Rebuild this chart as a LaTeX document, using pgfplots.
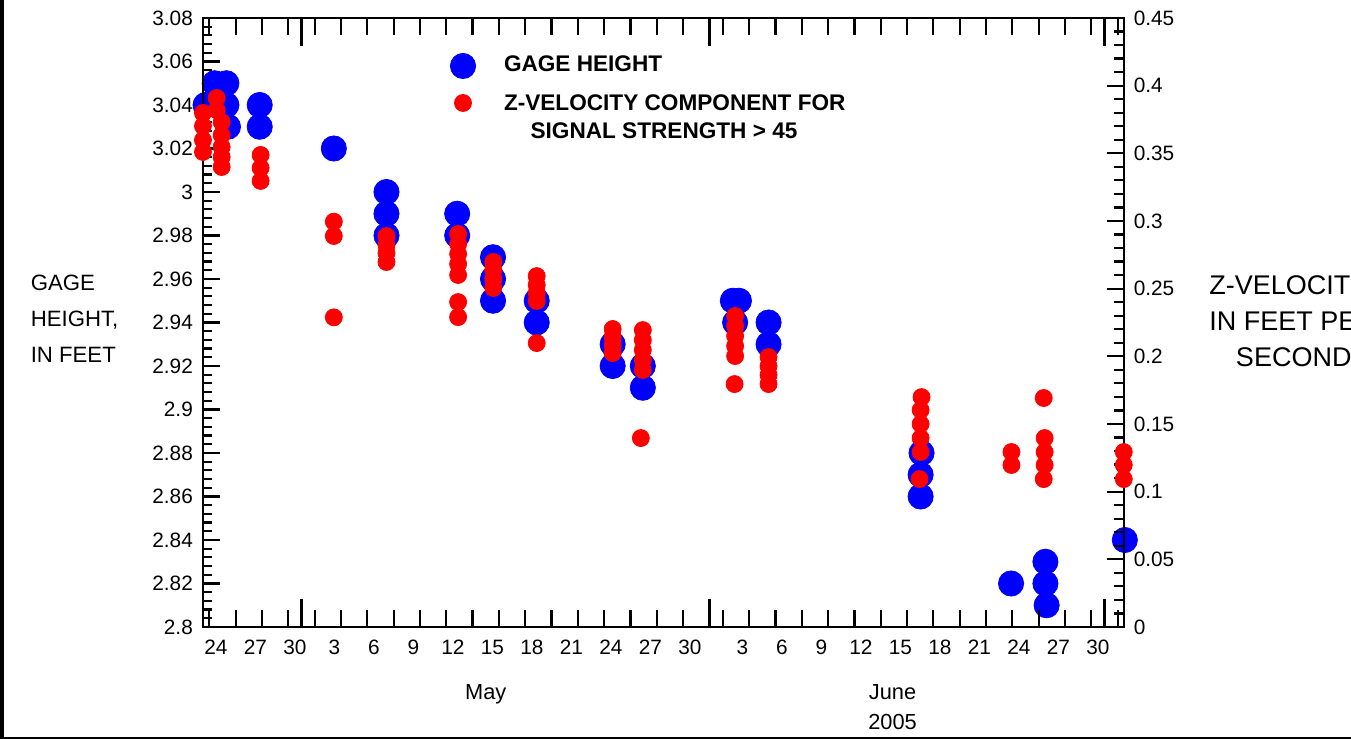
\documentclass[border=0pt]{standalone}
\usepackage{fontspec}
\setmainfont{Liberation Sans}
\usepackage{pgfplots}
\pgfplotsset{compat=1.18}
\usepackage{pgfplotstable}

% x = day of year 2005 (Jan 1 0:00 = 0); gage height in feet
\pgfplotstableread{
x y
112.72 3.04
113.41 3.05
114.30 3.05
114.30 3.04
114.42 3.03
116.83 3.04
116.83 3.03
122.46 3.02
126.46 3.00
126.46 2.99
126.46 2.98
131.83 2.99
131.83 2.98
134.55 2.97
134.55 2.96
134.55 2.95
137.87 2.95
137.87 2.94
143.64 2.93
143.64 2.92
145.93 2.92
145.93 2.91
152.77 2.95
153.23 2.95
152.94 2.94
155.48 2.94
155.48 2.93
167.10 2.88
167.03 2.87
167.03 2.86
173.90 2.82
176.51 2.83
176.51 2.82
176.60 2.81
182.54 2.84
}\gage

% z-velocity, feet per second
\pgfplotstableread{
x y
112.52 0.3798
112.52 0.3702
112.52 0.3598
112.52 0.3510
113.56 0.3909
113.56 0.3820
113.94 0.3731
113.94 0.3635
113.94 0.3547
113.94 0.3473
113.94 0.3399
116.90 0.3488
116.90 0.3392
116.90 0.3296
122.46 0.2995
122.46 0.2889
122.46 0.2288
126.46 0.2889
126.46 0.2822
126.46 0.2763
126.46 0.2697
131.90 0.2904
131.90 0.2830
131.90 0.2756
131.90 0.2682
131.90 0.2601
131.90 0.2401
131.90 0.2290
134.57 0.2697
134.57 0.2638
134.57 0.2571
134.57 0.2505
137.87 0.2593
137.87 0.2527
137.87 0.2468
137.87 0.2409
137.87 0.2098
143.64 0.2202
143.64 0.2142
143.64 0.2083
143.64 0.2024
145.93 0.2194
145.93 0.2120
145.93 0.2047
145.93 0.1973
145.93 0.1899
145.78 0.1396
152.94 0.2298
152.94 0.2224
152.94 0.2150
152.94 0.2076
152.94 0.2002
152.90 0.1795
155.48 0.1995
155.48 0.1928
155.48 0.1862
155.48 0.1795
167.10 0.1699
167.03 0.1603
167.03 0.1500
167.03 0.1396
167.03 0.1293
166.95 0.1093
173.93 0.1293
173.93 0.1197
176.38 0.1692
176.45 0.1396
176.45 0.1293
176.45 0.1197
176.38 0.1093
182.46 0.1293
182.46 0.1197
182.46 0.1093
}\vel

\pgfplotsset{
  base/.style={scale only axis, width=460.8pt, height=304.5pt,
    at={(101.35pt,56pt)}, anchor=south west,
    xmin=112.5, xmax=182.5, clip=false,
    axis line style={line width=1pt, black},
    tick style={line width=1.1pt, black},
    tick align=inside,
    tick label style={font=\fontsize{10.4}{12}\selectfont}},
  blueimg/.style={legend image code/.code={\draw[##1] plot coordinates {(0.3cm,2.7pt)};}},
  redimg/.style={legend image code/.code={\draw[##1] plot coordinates {(0.3cm,3.8pt)};}},
}

\begin{document}
\begin{tikzpicture}
\fill[white] (0,0) rectangle (675.5pt,369.5pt);
\fill[black] (0,0) rectangle (675.5pt,1pt);
\fill[black] (0,0) rectangle (2pt,369.5pt);

% left axis: gage height
\begin{axis}[base,
  ymin=2.8, ymax=3.08,
  xtick=\empty,
  ytick={2.8,2.82,2.84,2.86,2.88,2.9,2.92,2.94,2.96,2.98,3,3.02,3.04,3.06,3.08},
  yticklabels={2.8,2.82,2.84,2.86,2.88,2.9,2.92,2.94,2.96,2.98,3,3.02,3.04,3.06,3.08},
  minor y tick num=4,
  ytick pos=left,
  major tick length=8.5pt, minor tick length=4.5pt,
  yticklabel style={xshift=-1.4pt},
  ylabel={GAGE\\HEIGHT,\\IN FEET},
  every axis y label/.style={at={(axis description cs:-0.187,0.5057)}, anchor=west,
    align=left, inner sep=0pt, font=\fontsize{11.1}{18}\selectfont},
]
\addplot[only marks, mark=*, color=blue, mark size=6.3pt, mark options={draw=none, fill=blue}] table {\gage};
\end{axis}

% x ticks (every second day, month starts long)
\begin{axis}[base,
  ymin=0, ymax=1, ytick=\empty,
  xtick={120,151,181}, xticklabels={,,},
  minor xtick={113,115,117,119,121,123,125,127,129,131,133,135,137,139,141,143,145,147,149,152,154,156,158,160,162,164,166,168,170,172,174,176,178,180,182},
  major tick length=14pt, minor tick length=8.3pt,
]
\end{axis}

% x tick labels and months
\begin{axis}[base,
  ymin=0, ymax=1, ytick=\empty,
  axis line style={draw=none},
  xtick={113.5,116.5,119.5,122.5,125.5,128.5,131.5,134.5,137.5,140.5,143.5,146.5,149.5,153.5,156.5,159.5,162.5,165.5,168.5,171.5,174.5,177.5,180.5},
  xticklabels={24,27,30,3,6,9,12,15,18,21,24,27,30,3,6,9,12,15,18,21,24,27,30},
  xtick style={draw=none},
  xticklabel style={yshift=-3.1pt},
]
\node[anchor=base, font=\fontsize{10.9}{12}\selectfont, yshift=-36.5pt] at (axis cs:134,0) {May};
\node[anchor=base, font=\fontsize{10.9}{12}\selectfont, yshift=-36.5pt] at (axis cs:164.9,0) {June};
\node[anchor=base, font=\fontsize{10.9}{12}\selectfont, yshift=-51.5pt] at (axis cs:164.9,0) {2005};
\end{axis}

% right axis: z-velocity
\begin{axis}[base,
  ymin=0, ymax=0.45,
  hide x axis,
  ytick={0,0.05,0.1,0.15,0.2,0.25,0.3,0.35,0.4,0.45},
  yticklabels={0,0.05,0.1,0.15,0.2,0.25,0.3,0.35,0.4,0.45},
  minor y tick num=4,
  ytick pos=right, yticklabel pos=right,
  major tick length=8.5pt, minor tick length=5pt,
  yticklabel style={xshift=1.2pt},
  ylabel={Z-VELOCITY,\\IN FEET PER\\\hspace*{13.3pt}SECOND},
  every axis y label/.style={at={(axis description cs:1.0919,0.5025)}, anchor=west,
    align=left, inner sep=0pt, font=\fontsize{13.5}{18}\selectfont},
  every axis legend/.style={at={(axis description cs:0,1)}, xshift=123.85pt, yshift=-16.9pt,
    anchor=north west, draw=none, fill=none, inner sep=0pt, outer sep=0pt,
    row sep=5.6pt, column sep=14.2pt,
    cells={anchor=base west},
    nodes={inner sep=0pt, anchor=base west, font=\bfseries\fontsize{11.3}{14}\selectfont}},
]
\addlegendimage{only marks, mark=*, color=blue, mark size=6.3pt, mark options={draw=none, fill=blue}, blueimg}
\addplot[only marks, mark=*, color=red, mark size=4.25pt, mark options={draw=none, fill=red}, redimg] table {\vel};
\legend{{\begin{tabular}[t]{@{}l@{}}GAGE HEIGHT\end{tabular}},
  {\begin{tabular}[t]{@{}l@{}}Z-VELOCITY COMPONENT FOR\\\hspace*{13.3pt}SIGNAL STRENGTH \textgreater{} 45\end{tabular}}}
\end{axis}

\pgfresetboundingbox
\useasboundingbox (0,0) rectangle (675.5pt,369.5pt);
\end{tikzpicture}
\end{document}
